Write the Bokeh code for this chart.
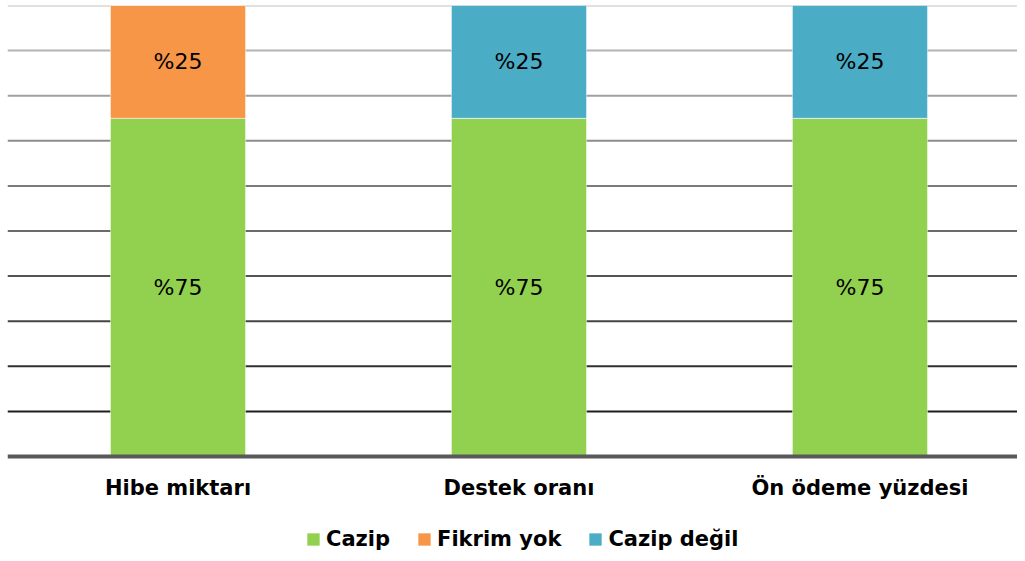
from bokeh.plotting import figure
from bokeh.models import (ColumnDataSource, Span, FixedTicker, Legend, LegendItem,
                          Range1d)
from bokeh.embed import file_html
from bokeh.resources import INLINE
from bokeh.core.properties import value

categories = ["Hibe miktarı", "Destek oranı", "Ön ödeme yüzdesi"]
series = ["Cazip", "Fikrim yok", "Cazip değil"]
cazip = [75, 75, 75]
fikrim_yok = [25, 0, 0]
cazip_degil = [0, 25, 25]
colors = ["#92d050", "#f79646", "#4bacc6"]
grid_levels = [10, 20, 30, 40, 50, 60, 70, 80, 90, 100]
grid_colors = ["#1e1e1e", "#303030", "#444444", "#555555", "#6a6a6a",
               "#7a7a7a", "#8c8c8c", "#a0a0a0", "#b4b4b4", "#c4c4c4"]

FONT = "DejaVu Sans"

xs = list(range(len(categories)))
src = ColumnDataSource(dict(x=xs, **{"Cazip": cazip, "Fikrim yok": fikrim_yok, "Cazip değil": cazip_degil}))

p = figure(width=1017, height=553, output_backend="svg", toolbar_location=None,
           x_range=Range1d(-0.5, 2.462), y_range=Range1d(-21.5, 100),
           min_border_left=7, min_border_right=0, min_border_top=5, min_border_bottom=0,
           outline_line_color=None)
p.xgrid.visible = False
p.ygrid.visible = False
p.yaxis.visible = False

for lv, c in zip(grid_levels, grid_colors):
    p.add_layout(Span(location=lv, dimension="width", line_color=c, line_width=2, level="underlay"))

rs = p.vbar_stack(series, x="x", width=0.396, source=src, fill_color=colors,
                  line_color="white", line_alpha=0.45, line_width=1)

# segment labels
lx, ly, lt = [], [], []
vals = [cazip, fikrim_yok, cazip_degil]
for i in xs:
    bottom = 0
    for s in vals:
        v = s[i]
        if v > 0:
            lx.append(i)
            ly.append(bottom + v / 2)
            lt.append("%" + str(v))
        bottom += v
p.text(x=lx, y=ly, text=lt, text_align="center", text_baseline="middle",
       text_font=value(FONT), text_font_size="22px", text_color="#000000")

ax = p.xaxis[0]
ax.fixed_location = 0
ax.ticker = FixedTicker(ticks=xs)
ax.major_label_overrides = {i: c for i, c in zip(xs, categories)}
ax.major_tick_line_color = None
ax.minor_tick_line_color = None
ax.major_tick_out = 0
ax.major_tick_in = 0
ax.axis_line_color = "#595959"
ax.axis_line_width = 4
ax.major_label_standoff = 19
ax.major_label_text_font = FONT
ax.major_label_text_font_style = "bold"
ax.major_label_text_font_size = "21px"
ax.major_label_text_color = "#000000"

legend = Legend(items=[LegendItem(label=s, renderers=[r]) for s, r in zip(series, rs)],
                orientation="horizontal", location=(298, 2),
                glyph_width=16, glyph_height=16, label_standoff=5, spacing=26,
                padding=0, margin=0, border_line_color=None, background_fill_alpha=0,
                label_text_font=FONT, label_text_font_style="bold",
                label_text_font_size="21px", label_text_color="#000000")
p.add_layout(legend, "center")

open("out.html", "w").write(file_html(p, INLINE))
